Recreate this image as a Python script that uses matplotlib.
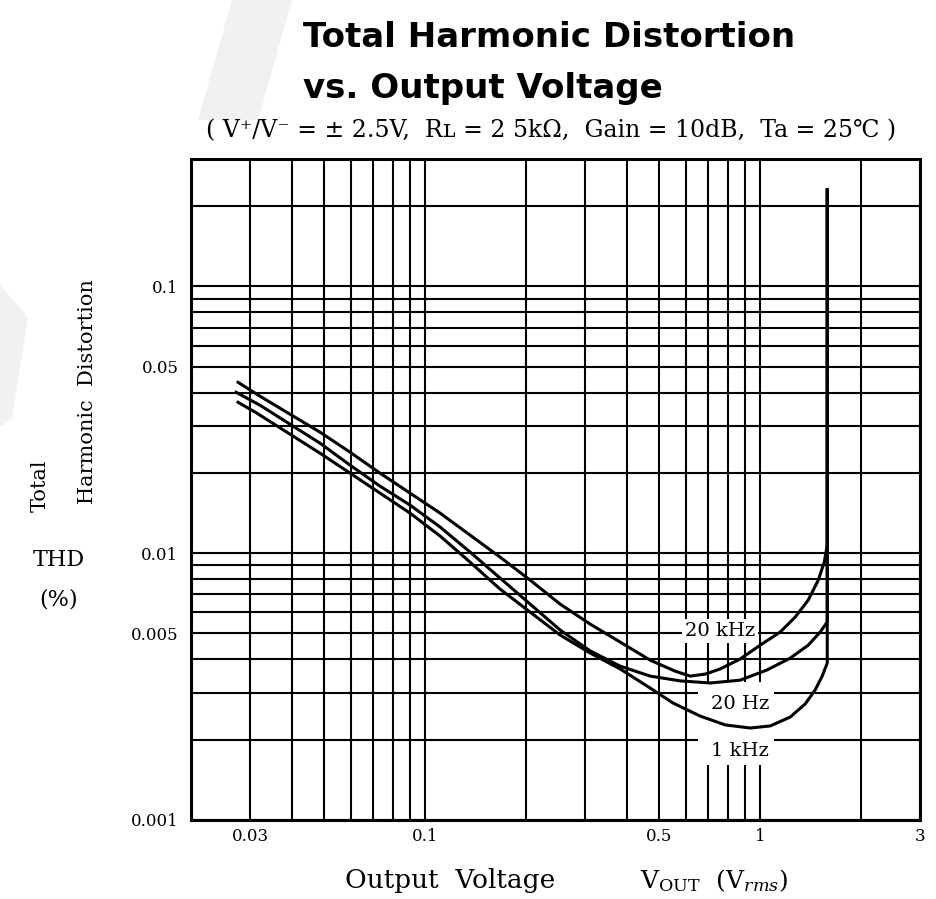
import numpy as np
import matplotlib
matplotlib.use('Agg')
import matplotlib.pyplot as plt
from matplotlib.ticker import LogLocator, NullFormatter
from matplotlib.patches import Rectangle, Polygon

# THD (%) vs output voltage (Vrms)
v_20khz = [0.02765, 0.03217, 0.03954, 0.04860, 0.05972, 0.07338, 0.09020, 0.1109, 0.1362,
           0.1674, 0.2058, 0.2529, 0.3108, 0.3820, 0.4695, 0.5574, 0.6180, 0.6851, 0.7596,
           0.8714, 1.0, 1.147, 1.272, 1.391, 1.490, 1.553, 1.585, 1.585]
thd_20khz = [0.04369, 0.03873, 0.03316, 0.02839, 0.02389, 0.01994, 0.01678, 0.01412, 0.01168,
             0.00966, 0.00792, 0.00644, 0.00542, 0.00464, 0.00397, 0.00361, 0.00346, 0.00352, 0.00368,
             0.00401, 0.00452, 0.00506, 0.00576, 0.00667, 0.00792, 0.00925, 0.01072, 0.23]

v_20hz = [0.02727, 0.03217, 0.03954, 0.04860, 0.05972, 0.07338, 0.09020, 0.1109, 0.1362,
          0.1674, 0.2058, 0.2529, 0.3108, 0.3820, 0.4695, 0.5770, 0.7090, 0.8714, 1.049,
          1.229, 1.391, 1.510, 1.585, 1.585]
thd_20hz = [0.04009, 0.03583, 0.03041, 0.02582, 0.02136, 0.01782, 0.01513, 0.01252, 0.01009,
            0.00806, 0.00644, 0.00515, 0.00430, 0.00377, 0.00346, 0.00332, 0.00326, 0.00334, 0.00365,
            0.00404, 0.00452, 0.00506, 0.00552, 0.23]

v_1khz = [0.02765, 0.03150, 0.03954, 0.04860, 0.05972, 0.07338, 0.09020, 0.1109, 0.1362,
          0.1674, 0.2058, 0.2529, 0.3108, 0.3820, 0.4695, 0.5499, 0.6622, 0.7860, 0.9336,
          1.071, 1.229, 1.362, 1.459, 1.531, 1.585, 1.585]
thd_1khz = [0.03677, 0.03344, 0.02790, 0.02368, 0.01994, 0.01678, 0.01412, 0.01158, 0.00925,
            0.00733, 0.00601, 0.00493, 0.00422, 0.00368, 0.00312, 0.00274, 0.00245, 0.00227, 0.00221,
            0.00225, 0.00243, 0.00272, 0.00307, 0.00346, 0.00387, 0.23]

xticks = [0.03, 0.1, 0.5, 1, 3]
xtick_labels = ['0.03', '0.1', '0.5', '1', '3']
yticks = [0.001, 0.005, 0.01, 0.05, 0.1]
ytick_labels = ['0.001', '0.005', '0.01', '0.05', '0.1']

serif = ['DejaVu Serif', 'DejaVu Sans']
plt.rcParams['mathtext.fontset'] = 'dejavuserif'

fig = plt.figure(figsize=(9.36, 8.99), dpi=100)

# faint scan watermark
fig.patches.append(Polygon([(232, 899), (292, 899), (258, 779), (198, 779)], closed=True,
                           transform=None, facecolor='#f1f1f1', edgecolor='none', zorder=0))
fig.patches.append(Polygon([(0, 614), (28, 582), (12, 480), (0, 472)], closed=True,
                           transform=None, facecolor='#f1f1f1', edgecolor='none', zorder=0))

ax = fig.add_axes([0.204, 0.088, 0.779, 0.735])
ax.set_xscale('log')
ax.set_yscale('log')
ax.set_xlim(0.02, 3)
ax.set_ylim(0.001, 0.3)

# grid on every 1..9 multiple
ax.xaxis.set_minor_locator(LogLocator(base=10, subs=np.arange(1, 10), numticks=30))
ax.yaxis.set_minor_locator(LogLocator(base=10, subs=np.arange(1, 10), numticks=30))
ax.xaxis.set_minor_formatter(NullFormatter())
ax.yaxis.set_minor_formatter(NullFormatter())
ax.set_xticks(xticks)
ax.set_xticklabels(xtick_labels, family=serif, fontsize=12)
ax.set_yticks(yticks)
ax.set_yticklabels(ytick_labels, family=serif, fontsize=12)
ax.tick_params(which='both', length=0)
ax.tick_params(axis='y', pad=9)
ax.tick_params(axis='x', pad=6)
ax.grid(True, which='both', color='black', lw=1.5, zorder=1)
ax.set_axisbelow(True)
for s in ax.spines.values():
    s.set_linewidth(2.2)

# blank area behind the lower labels
ax.add_patch(Rectangle((0.65, 0.0016), 1.1 - 0.65, 0.0033 - 0.0016,
                       facecolor='white', edgecolor='none', zorder=1.5))

for v, t in [(v_20khz, thd_20khz), (v_20hz, thd_20hz), (v_1khz, thd_1khz)]:
    ax.plot(v, t, color='black', lw=2.2, zorder=3, solid_joinstyle='round')

box = dict(facecolor='white', edgecolor='none', pad=2)
ax.text(0.76, 0.0051, '20 kHz', family=serif, fontsize=14, ha='center', va='center', bbox=box, zorder=4)
ax.text(0.87, 0.00272, '20 Hz', family=serif, fontsize=14, ha='center', va='center', bbox=box, zorder=4)
ax.text(0.87, 0.00181, '1 kHz', family=serif, fontsize=14, ha='center', va='center', bbox=box, zorder=4)

# titles
fig.text(0.324, 0.958, 'Total Harmonic Distortion', family='DejaVu Sans', weight='bold',
         fontsize=24.5, ha='left', va='center')
fig.text(0.324, 0.902, 'vs. Output Voltage', family='DejaVu Sans', weight='bold',
         fontsize=24.5, ha='left', va='center')
fig.text(0.589, 0.855, '( V\u207a/V\u207b = \u00b1 2.5V,  R\u029f = 2 5k\u03a9,  Gain = 10dB,  Ta = 25\u2103 )',
         family=serif, fontsize=17, ha='center', va='center')

# y axis label
fig.text(0.043, 0.46, 'Total', family=serif, fontsize=15, rotation=90, ha='center', va='center')
fig.text(0.094, 0.564, 'Harmonic  Distortion', family=serif, fontsize=15, rotation=90, ha='center', va='center')
fig.text(0.063, 0.377, 'THD', family=serif, fontsize=16, ha='center', va='center')
fig.text(0.063, 0.333, '(%)', family=serif, fontsize=16, ha='center', va='center')

# x axis label
fig.text(0.369, 0.021, 'Output  Voltage', family=serif, fontsize=19, ha='left', va='center')
fig.text(0.684, 0.021, 'V$_\\mathregular{OUT}$  (V$_{rms}$)', family=serif,
         fontsize=18, ha='left', va='center')

fig.savefig('out.png', dpi=100)
